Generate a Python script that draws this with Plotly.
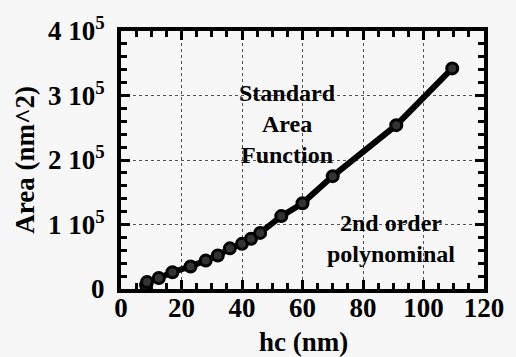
import plotly.graph_objects as go

# data (hc in nm, area in nm^2)
hc = [8.3, 8.6, 12.5, 17.0, 23.0, 28.0, 32.0, 36.0, 40.0, 43.0, 46.0, 53.0, 60.0, 70.0, 91.0, 109.5]
area = [6000, 11000, 17000, 26000, 35000, 44000, 52000, 63000, 70000, 78000, 87000, 113000, 133000, 175000, 254000, 342000]

x_ticks = [0, 20, 40, 60, 80, 100, 120]
y_ticks = [0, 100000, 200000, 300000, 400000]
y_ticktext = ["0", "1 10<sup>5</sup>", "2 10<sup>5</sup>", "3 10<sup>5</sup>", "4 10<sup>5</sup>"]

FONT = "Liberation Serif"
BG = "#f7f7f7"

fig = go.Figure()
fig.add_trace(go.Scatter(
    x=hc, y=area, mode="lines+markers",
    line=dict(color="black", width=6),
    marker=dict(symbol="circle", size=11, color="#333333", line=dict(color="black", width=3)),
    showlegend=False,
))

axis_common = dict(
    showline=True, linecolor="black", linewidth=4, mirror="ticks",
    ticks="inside", tickcolor="black", tickwidth=3, ticklen=9,
    showgrid=True, gridcolor="#555555", griddash="dot", gridwidth=1,
    zeroline=False,
    tickfont=dict(family=FONT, size=27, color="black", weight="bold"),
)

fig.update_xaxes(
    range=[0, 120], tickvals=x_ticks, ticktext=[str(v) for v in x_ticks],
    minor=dict(dtick=5, ticks="inside", ticklen=6, tickwidth=3, tickcolor="black", showgrid=False),
    ticklabelstandoff=-8,
    **axis_common,
)
fig.update_yaxes(
    range=[0, 400000], tickvals=y_ticks, ticktext=y_ticktext,
    minor=dict(dtick=20000, ticks="inside", ticklen=6, tickwidth=3, tickcolor="black", showgrid=False),
    ticklabelstandoff=7,
    **axis_common,
)

txt = dict(family=FONT, size=24, color="black", weight="bold")
fig.add_annotation(text="Standard<br>Area<br>Function", x=0.46, y=0.64, xref="paper", yref="paper",
                   showarrow=False, font=txt, xanchor="center", yanchor="middle", align="center")
fig.add_annotation(text="2nd order<br>polynominal", x=0.745, y=0.195, xref="paper", yref="paper",
                   showarrow=False, font=txt, xanchor="center", yanchor="middle", align="center")

fig.add_annotation(text="hc (nm)", x=0.503, y=-0.205, xref="paper", yref="paper",
                   showarrow=False, font=dict(family=FONT, size=27, color="black", weight="bold"),
                   xanchor="center", yanchor="middle")
fig.add_annotation(text="Area (nm^2)", x=-0.265, y=0.5, xref="paper", yref="paper",
                   showarrow=False, textangle=-90,
                   font=dict(family=FONT, size=27, color="black", weight="bold"),
                   xanchor="center", yanchor="middle")

fig.update_layout(
    width=516, height=357,
    margin=dict(l=121, r=21, t=28, b=68),
    paper_bgcolor=BG, plot_bgcolor=BG,
)

fig.write_html("out.html")
